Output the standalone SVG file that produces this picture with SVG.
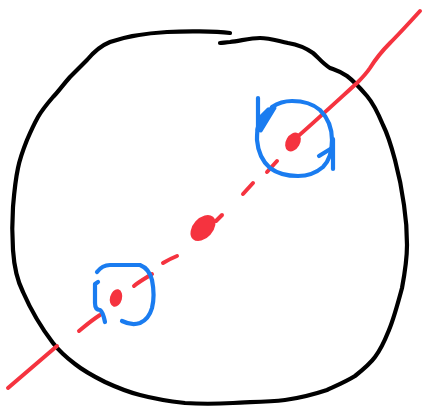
<svg xmlns="http://www.w3.org/2000/svg" width="425" height="409" viewBox="0 0 425 409">
<style>
.k{fill:none;stroke:#000;stroke-width:4.2;stroke-linecap:round;stroke-linejoin:round}
.r{fill:none;stroke:#f5333f;stroke-width:4;stroke-linecap:round;stroke-linejoin:round}
.rf{fill:#f5333f;stroke:#f5333f;stroke-width:2}
.b{fill:none;stroke:#1a7cf0;stroke-width:4.2;stroke-linecap:round;stroke-linejoin:round}
.bf{fill:#1a7cf0;stroke:#1a7cf0;stroke-width:3;stroke-linejoin:round}
</style>
<rect width="425" height="409" fill="#fff"/>
<g id="circle">
<path class="k" d="M230,33 C215,31 185,31 167,32 C150,33 130,35 110,42 C100,46 92,54 87,60 C80,67 75,72 70,77 C62,86 58,92 53,97 C47,104 42,110 38,117 C33,126 30,133 27,140 C23,150 20,158 18,168 C15,182 14,195 13,207 C12,222 12,235 13,250 C14,265 17,280 23,292 C30,308 40,326 53,343 C60,352 67,358 75,364 C85,372 95,377 105,382 C118,388 128,392 140,395 C155,399 167,401 185,403 C200,404 215,404 233,403 C250,402 267,402 285,400 C300,398 315,394 327,390 C340,384 347,381 355,376 C365,368 370,364 375,357 C382,348 385,340 389,330 C394,318 398,303 402,288 C405,272 407,260 407,245 C407,232 406,218 404,205 C402,190 399,175 395,160 C391,145 387,133 383,125 C378,113 373,103 367,96 C361,89 355,82 347,76 C340,71 335,70 330,68 C322,63 318,57 313,53 C306,48 300,45 288,43 C278,41 270,38 260,38 C250,38 240,41 230,42 C226,42 223,43 220,43"/>
</g>
<g id="axis">
<path class="r" d="M8,388 L57,346"/>
<path class="r" d="M79,331 C85,326 92,320 100,315"/>
<path class="r" d="M134,286 C140,281 146,278 152,274"/>
<path class="r" d="M163,263 C168,260 172,258 177,256"/>
<path class="r" d="M216,221 L222,215"/>
<path class="r" d="M243,194 L253,183"/>
<path class="r" d="M267,172 L277,161"/>
<path class="r" d="M296,138 C310,126 335,103 357,83 C362,78 366,74 370,68 C375,60 380,53 390,43 C400,33 410,22 420,11"/>
<ellipse class="rf" cx="116" cy="298" rx="5" ry="8" transform="rotate(15 116 298)"/>
<ellipse class="rf" cx="203" cy="228" rx="9" ry="14" transform="rotate(42 203 228)"/>
<ellipse class="rf" cx="293" cy="142" rx="6" ry="9" transform="rotate(30 293 142)"/>
</g>
<g id="upper-loop">
<path class="b" d="M258,98 L258,130"/>
<path class="bf" d="M257,130 L261,131 L275,108 L268,109 L259,118 Z"/>
<path class="b" d="M272,107 C278,103 284,101 292,101 C302,101 312,103 320,110 C328,118 332,128 332,140 C332,152 330,160 323,167 C316,173 308,176 298,176 C288,176 278,174 270,168 C262,161 258,152 257,140 C257,135 257,131 258,127"/>
<path class="b" d="M333,139 L333,169"/>
<path class="b" d="M319,156 L332,148"/>
</g>
<g id="lower-loop">
<path class="b" d="M97,272 C100,268 104,265 110,265 L140,265 C145,267 150,272 152,280 C154,290 154,300 152,308 C150,315 147,320 140,323 C134,325 128,324 122,321"/>
<path class="b" d="M98,282 L95,284 L95,303 C95,308 97,310 100,310 C103,312 104,317 105,322"/>
</g>
</svg>
